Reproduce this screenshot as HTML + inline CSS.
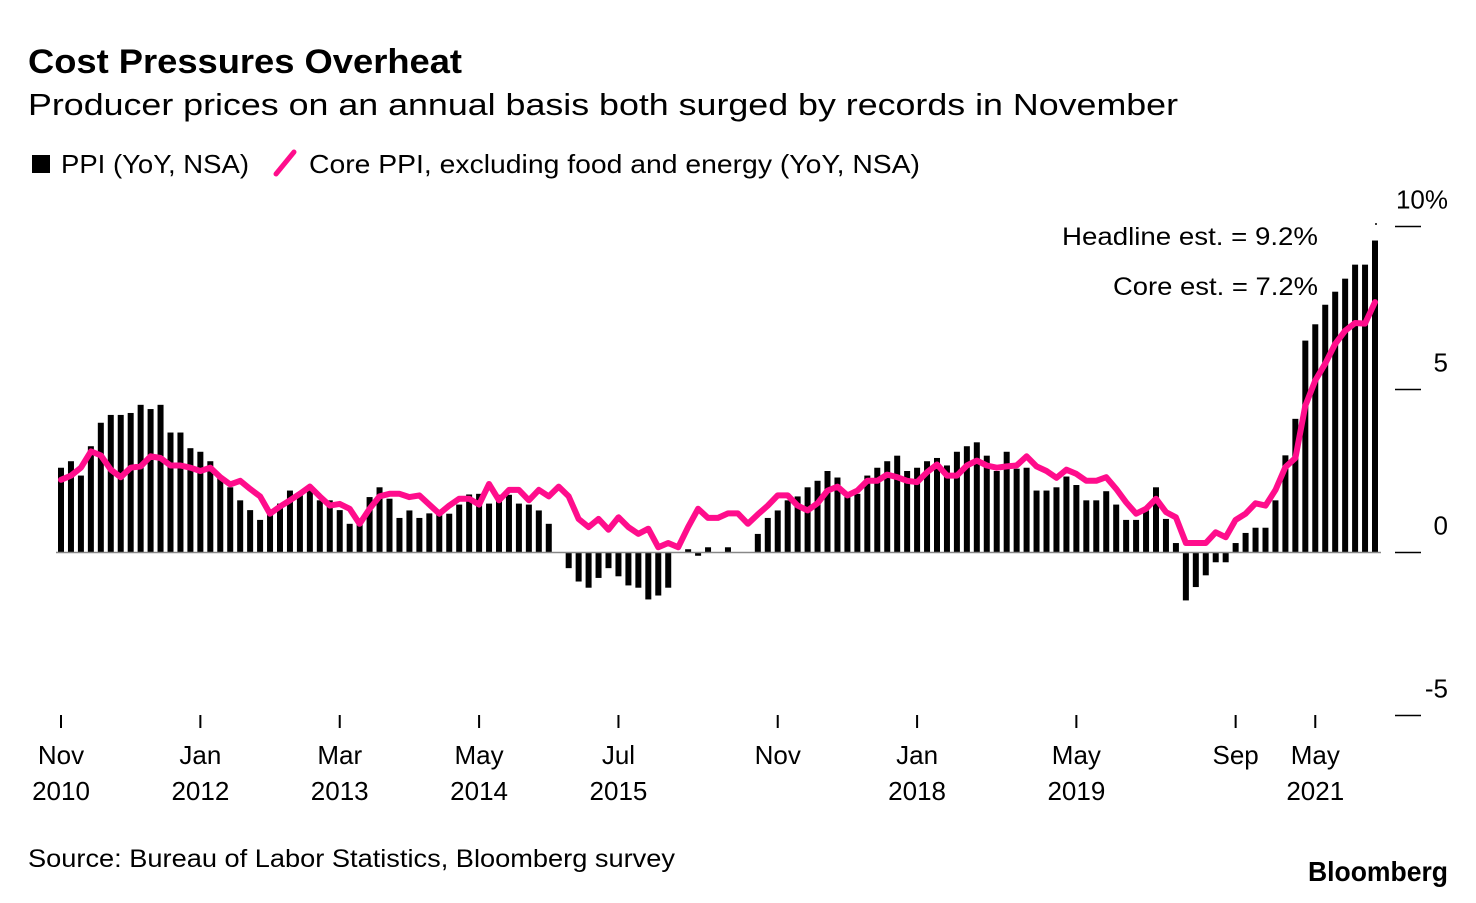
<!DOCTYPE html>
<html><head><meta charset="utf-8">
<style>
body{margin:0;background:#fff;font-family:"Liberation Sans",sans-serif;}
svg text{font-family:"Liberation Sans",sans-serif;fill:#000;}
</style></head>
<body>
<svg id="chart" width="1476" height="898" viewBox="0 0 1476 898" xmlns="http://www.w3.org/2000/svg">
<text x="28" y="73" font-size="34" font-weight="bold" textLength="434" lengthAdjust="spacingAndGlyphs">Cost Pressures Overheat</text>
<text x="28" y="115" font-size="31" textLength="1150" lengthAdjust="spacingAndGlyphs">Producer prices on an annual basis both surged by records in November</text>
<g>
<rect x="32" y="155" width="18" height="18" fill="#000"/>
<text x="61" y="173" font-size="26" textLength="188" lengthAdjust="spacingAndGlyphs">PPI (YoY, NSA)</text>
<line x1="276" y1="174" x2="294" y2="152" stroke="#ff0d8c" stroke-width="5" stroke-linecap="round"/>
<text x="309" y="173" font-size="26" textLength="611" lengthAdjust="spacingAndGlyphs">Core PPI, excluding food and energy (YoY, NSA)</text>
</g>
<g id="yaxis"></g>
<g id="xaxis"></g>
<g id="bars"></g>
<line x1="56" y1="552.5" x2="1381" y2="552.5" stroke="#888" stroke-width="1.5"/>
<path id="coreLine" fill="none" stroke="#ff0d8c" stroke-width="6" stroke-linejoin="round" stroke-linecap="round"/>
<text x="1062" y="245" font-size="25" textLength="256" lengthAdjust="spacingAndGlyphs">Headline est. = 9.2%</text>
<text x="1113" y="295" font-size="25" textLength="205" lengthAdjust="spacingAndGlyphs">Core est. = 7.2%</text>
<circle cx="1376" cy="224" r="1" fill="#000"/>
<text x="28" y="867" font-size="25" textLength="647" lengthAdjust="spacingAndGlyphs">Source: Bureau of Labor Statistics, Bloomberg survey</text>
<text x="1308" y="881" font-size="28" font-weight="bold" textLength="140" lengthAdjust="spacingAndGlyphs">Bloomberg</text>
</svg>
<script>
const ppiValues=[2.6,2.8,2.36,3.26,3.98,4.22,4.22,4.28,4.53,4.4,4.53,3.68,3.68,3.2,3.09,2.8,2.3,2.0,1.6,1.3,1.0,1.3,1.5,1.9,1.75,1.9,1.6,1.6,1.3,0.88,0.9,1.7,2.0,1.65,1.06,1.29,1.06,1.2,1.3,1.19,1.47,1.78,1.8,1.5,1.77,1.77,1.5,1.47,1.29,0.88,0,-0.48,-0.89,-1.08,-0.78,-0.48,-0.73,-1.01,-1.08,-1.44,-1.32,-1.08,0,0.1,-0.1,0.16,0,0.16,0,0,0.57,1.06,1.29,1.6,1.72,2.0,2.2,2.5,2.3,1.7,1.8,2.36,2.6,2.8,2.97,2.5,2.6,2.8,2.9,2.67,3.09,3.26,3.38,2.97,2.5,3.09,2.57,2.6,1.9,1.9,2.0,2.33,2.07,1.6,1.6,1.88,1.47,1.0,1.0,1.29,2.0,1.03,0.29,-1.47,-1.06,-0.7,-0.3,-0.3,0.29,0.6,0.76,0.76,1.6,2.98,4.1,6.5,7.0,7.6,8.0,8.4,8.83,8.83,9.57];
const coreValues=[2.23,2.36,2.6,3.1,2.98,2.54,2.31,2.6,2.64,2.95,2.9,2.67,2.67,2.6,2.5,2.6,2.31,2.09,2.2,1.95,1.72,1.19,1.41,1.6,1.8,2.02,1.72,1.44,1.49,1.34,0.88,1.34,1.72,1.8,1.8,1.7,1.75,1.47,1.19,1.44,1.65,1.65,1.47,2.1,1.6,1.92,1.92,1.6,1.92,1.72,2.02,1.72,1.03,0.78,1.03,0.7,1.08,0.78,0.57,0.73,0.16,0.29,0.16,0.78,1.34,1.06,1.06,1.2,1.2,0.88,1.17,1.44,1.75,1.75,1.44,1.29,1.51,1.9,2.02,1.75,1.9,2.2,2.2,2.39,2.31,2.2,2.16,2.46,2.7,2.36,2.36,2.67,2.82,2.67,2.6,2.64,2.67,2.95,2.64,2.5,2.29,2.54,2.41,2.2,2.2,2.31,1.95,1.54,1.19,1.34,1.65,1.24,1.08,0.29,0.29,0.29,0.62,0.47,1.0,1.19,1.51,1.44,1.92,2.62,2.9,4.5,5.28,5.79,6.4,6.8,7.04,7.02,7.68];
const yTicks=[10,5,0,-5];
const yTickLabels=["10%","5","0","-5"];
const xTickIndex=[0,14,28,42,56,72,86,102,118,126];
const xTickMonth=["Nov","Jan","Mar","May","Jul","Nov","Jan","May","Sep","May"];
const xTickYear=["2010","2012","2013","2014","2015","","2018","2019","","2021"];

const NS="http://www.w3.org/2000/svg";
function xPos(i){return 61+i*(1375-61)/132;}
function yPos(v){return 552.5-v*32.6;}
function mk(tag,attrs,parent){const e=document.createElementNS(NS,tag);for(const k in attrs)e.setAttribute(k,attrs[k]);parent.appendChild(e);return e;}

const ya=document.getElementById('yaxis');
yTicks.forEach((t,i)=>{
  const l=mk('line',{x1:1395,x2:1421,y1:yPos(t),y2:yPos(t),stroke:'#000','stroke-width':1.5},ya);
  
  
  const tx=mk('text',{x:1448,y:yPos(t)-18,'font-size':26,'text-anchor':'end'},ya);
  tx.textContent=yTickLabels[i];
  
  
});
const xa=document.getElementById('xaxis');
xTickIndex.forEach((k,i)=>{
  const x=xPos(k);
  const l=mk('line',{x1:x,x2:x,y1:715,y2:728,stroke:'#000','stroke-width':2},xa);
  
  
  const t1=mk('text',{x:x,y:764,'font-size':26,'text-anchor':'middle'},xa);
  t1.textContent=xTickMonth[i];
  
  
  if(xTickYear[i]){
    const t2=mk('text',{x:x,y:800,'font-size':26,'text-anchor':'middle'},xa);
    t2.textContent=xTickYear[i];
    
    
  }
});
const bg=document.getElementById('bars');
ppiValues.forEach((v,i)=>{
  const y0=yPos(0),y1=yPos(v);
  const r=mk('rect',{x:xPos(i)-3,y:Math.min(y0,y1),width:6,height:Math.max(Math.abs(y1-y0),0.01),fill:'#000'},bg);
  
  
});
document.getElementById('coreLine').setAttribute('d',coreValues.map((v,i)=>(i?'L':'M')+xPos(i).toFixed(1)+' '+yPos(v).toFixed(1)).join(' '));
</script>
</body></html>
